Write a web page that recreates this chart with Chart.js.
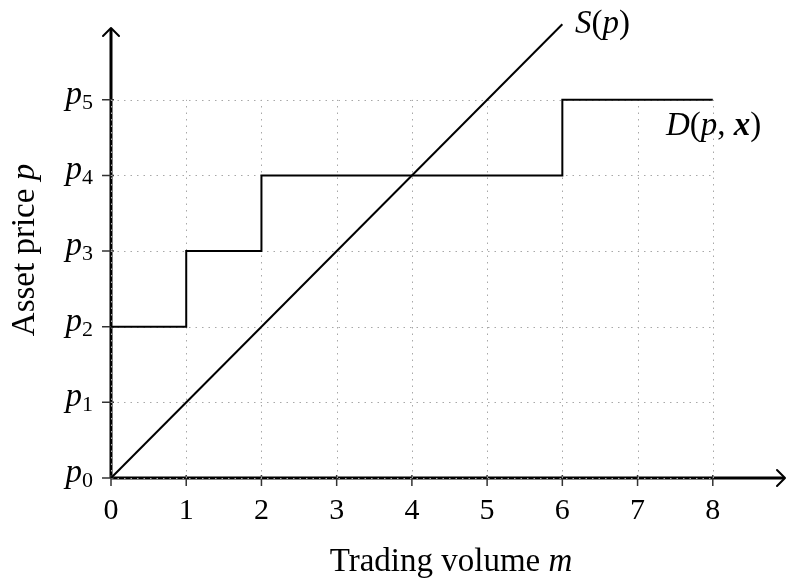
<!DOCTYPE html>
<html>
<head>
<meta charset="utf-8">
<script src="https://cdn.jsdelivr.net/npm/chart.js@4"></script>
<style>
  body { margin: 0; background: #fff; }
</style>
</head>
<body>
<canvas id="chart" width="787" height="578"></canvas>
<script>
// values
var xTicks = [0, 1, 2, 3, 4, 5, 6, 7, 8];
var yTicks = [0, 1, 2, 3, 4, 5];
var yTickSubs = ['0', '1', '2', '3', '4', '5'];
var supplyX = [0, 6];
var supplyY = [0, 6];
var demandX = [0, 1, 2, 6, 8];
var demandY = [2, 3, 4, 5, 5];

var FONT = '"Liberation Serif", "DejaVu Serif", serif';

function toPoints(xs, ys) {
    var pts = [];
    for (var i = 0; i < xs.length; i++) pts.push({x: xs[i], y: ys[i]});
    return pts;
}

// draw a run of text pieces with their own styles
function richText(ctx, parts, x, y, align, size) {
    var w = 0;
    parts.forEach(function (p) {
        ctx.font = (p.style || '') + ' ' + (p.size || size) + 'px ' + FONT;
        p.w = ctx.measureText(p.t).width;
        w += p.w;
    });
    var cx = align === 'right' ? x - w : (align === 'center' ? x - w / 2 : x);
    parts.forEach(function (p) {
        ctx.font = (p.style || '') + ' ' + (p.size || size) + 'px ' + FONT;
        ctx.fillText(p.t, cx, y + (p.dy || 0));
        cx += p.w;
    });
}

var axesPlugin = {
    id: 'axes',
    beforeDatasetsDraw: function (chart) {
        var ctx = chart.ctx;
        var xs = chart.scales.x, ys = chart.scales.y;
        var x0 = xs.getPixelForValue(0), y0 = ys.getPixelForValue(0);
        var xEnd = xs.right, yEnd = ys.top;
        var gx = xs.getPixelForValue(xTicks[xTicks.length - 1]);
        var gy = ys.getPixelForValue(yTicks[yTicks.length - 1]);
        ctx.save();

        // axes
        ctx.strokeStyle = '#000';
        ctx.lineWidth = 3;
        ctx.beginPath();
        ctx.moveTo(x0, y0); ctx.lineTo(xEnd - 1, y0);
        ctx.moveTo(x0, y0); ctx.lineTo(x0, yEnd + 1);
        ctx.stroke();
        // arrow heads
        ctx.lineWidth = 2;
        ctx.lineCap = 'round';
        ctx.lineJoin = 'round';
        ctx.beginPath();
        ctx.moveTo(xEnd - 8, y0 - 8); ctx.lineTo(xEnd, y0); ctx.lineTo(xEnd - 8, y0 + 8);
        ctx.moveTo(x0 - 8, yEnd + 8); ctx.lineTo(x0, yEnd); ctx.lineTo(x0 + 8, yEnd + 8);
        ctx.stroke();

        // tick marks
        ctx.lineCap = 'butt';
        ctx.strokeStyle = '#333';
        ctx.lineWidth = 1.5;
        ctx.beginPath();
        xTicks.forEach(function (v) {
            var px = xs.getPixelForValue(v);
            ctx.moveTo(px, y0 - 3); ctx.lineTo(px, y0 + 8);
        });
        yTicks.forEach(function (v) {
            var py = ys.getPixelForValue(v);
            ctx.moveTo(x0 - 9, py); ctx.lineTo(x0 + 3, py);
        });
        ctx.stroke();

        // dotted grid
        ctx.strokeStyle = '#a8a8a8';
        ctx.lineWidth = 1;
        ctx.setLineDash([1.5, 5]);
        ctx.beginPath();
        xTicks.forEach(function (v) {
            var px = Math.round(xs.getPixelForValue(v)) + 0.5;
            ctx.moveTo(px, y0); ctx.lineTo(px, gy);
        });
        yTicks.forEach(function (v) {
            var py = Math.round(ys.getPixelForValue(v)) + 0.5;
            ctx.moveTo(x0, py); ctx.lineTo(gx, py);
        });
        ctx.stroke();
        ctx.restore();
    },
    afterDraw: function (chart) {
        var ctx = chart.ctx;
        var xs = chart.scales.x, ys = chart.scales.y;
        var x0 = xs.getPixelForValue(0), y0 = ys.getPixelForValue(0);
        ctx.save();
        ctx.fillStyle = '#000';
        ctx.textBaseline = 'alphabetic';
        ctx.textAlign = 'left';

        // x tick labels
        xTicks.forEach(function (v) {
            richText(ctx, [{t: String(v)}], xs.getPixelForValue(v), y0 + 41, 'center', 30);
        });
        // y tick labels p0..p5
        yTicks.forEach(function (v, i) {
            var py = ys.getPixelForValue(v);
            richText(ctx, [{t: 'p', style: 'italic'}, {t: yTickSubs[i], size: 22, dy: 5}],
                x0 - 18, py + 4, 'right', 33);
        });

        // axis titles
        richText(ctx, [{t: 'Trading volume '}, {t: 'm', style: 'italic'}],
            451, 571, 'center', 33);
        ctx.save();
        ctx.translate(34, 250);
        ctx.rotate(-Math.PI / 2);
        richText(ctx, [{t: 'Asset price '}, {t: 'p', style: 'italic'}], 0, 0, 'center', 33);
        ctx.restore();

        // curve labels
        richText(ctx, [{t: 'S', style: 'italic'}, {t: '('}, {t: 'p', style: 'italic'}, {t: ')'}],
            575, 33, 'left', 33);
        richText(ctx, [{t: 'D', style: 'italic'}, {t: '('}, {t: 'p', style: 'italic'}, {t: ', '},
            {t: 'x', style: 'italic bold'}, {t: ')'}], 666, 135, 'left', 33);
        ctx.restore();
    }
};

var ctx = document.getElementById('chart').getContext('2d');
var chart = new Chart(ctx, {
    type: 'line',
    data: {
        datasets: [{
            label: 'S(p)',
            data: toPoints(supplyX, supplyY),
            borderColor: '#000',
            borderWidth: 2,
            pointRadius: 0,
            clip: false
        }, {
            label: 'D(p, x)',
            data: toPoints(demandX, demandY),
            borderColor: '#000',
            borderWidth: 2,
            pointRadius: 0,
            stepped: true,
            clip: false
        }]
    },
    options: {
        responsive: false,
        animation: false,
        layout: {
            padding: {left: 111, right: 2, top: 28, bottom: 100}
        },
        scales: {
            x: {type: 'linear', min: 0, max: 8.96, display: false},
            y: {type: 'linear', min: 0, max: 5.95, display: false}
        },
        plugins: {
            legend: {display: false},
            tooltip: {enabled: false}
        }
    },
    plugins: [axesPlugin]
});
</script>
</body>
</html>
